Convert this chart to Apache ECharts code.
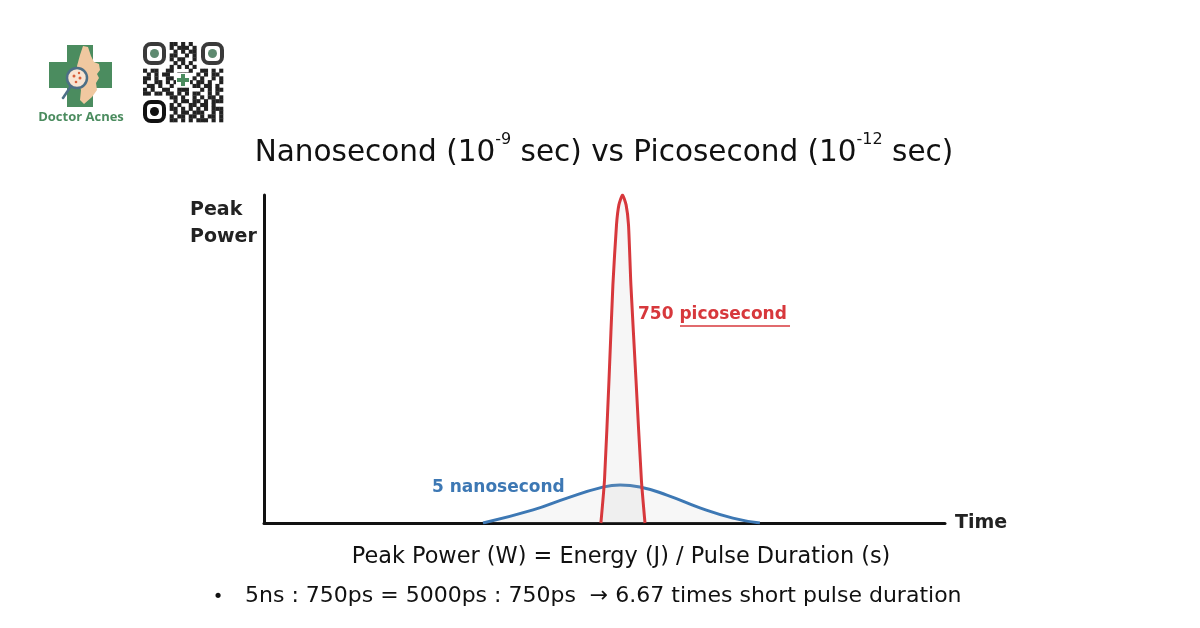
<!DOCTYPE html>
<html>
<head>
<meta charset="utf-8">
<script src="https://cdn.jsdelivr.net/npm/echarts@6/dist/echarts.min.js"></script>
<style>html,body{margin:0;padding:0;background:#fff}#c{width:1200px;height:628px}</style>
</head>
<body>
<div id="c"></div>
<script>
// Time axis in nanoseconds, power normalised to the picosecond peak
const picoTime  = [11.23, 11.35, 11.50, 11.63, 11.75, 11.83, 11.95, 12.07, 12.15, 12.23, 12.40, 12.58, 12.70];
const picoPower = [0, 0.131, 0.436, 0.726, 0.909, 0.970, 1.0, 0.970, 0.909, 0.726, 0.436, 0.131, 0];
const nanoTime  = [7.3, 8.97, 10.1, 11.2, 11.87, 12.53, 13.43, 14.53, 15.63, 16.53];
const nanoPower = [0, 0.040, 0.076, 0.107, 0.116, 0.110, 0.085, 0.046, 0.015, 0];

const titleRich = '{t|Nanosecond (10}{s|-9}{t| sec) vs Picosecond (10}{s|-12}{t| sec)}';
const yName = 'Peak\nPower';
const xName = 'Time';
const picoLabel = ['750 ', 'picosecond'];
const nanoLabel = '5 nanosecond';
const formula = 'Peak Power (W) = Energy (J) / Pulse Duration (s)';
const note = '5ns : 750ps = 5000ps : 750ps  \u2192 6.67 times short pulse duration';
const brand = 'Doctor Acnes';

const qrRows = [
".......##.#.#........",
".......#.###.#.......",
"........#.#.##.......",
".......##..#.#.......",
".......#.##..#.......",
"........#.#.#........",
".......#.#.#.#.......",
"#.##..##....#..##.#.#",
".#.#.##..###..#.#.##.",
"##.#..##.....#.#..#.#",
"#..##.#.#...#.##.#..#",
".##.#..#.....##.##.#.",
"#.#..##..###...#.#.##",
"##.##.##.#.#.##..#.#.",
".......##.#..#.#.##.#",
"........#.##.##.#.###",
".......#.#..##.##.#..",
".......##.#.#.#.#.###",
"........#.##.###..#.#",
".......#.##.##.#.##.#",
".......##.#.#.###.#.#"
];

function zip(a, b) { return a.map((v, i) => [v, b[i]]); }

const green = '#4b8c5f';
const g = [];
const C = {align:'center', verticalAlign:'middle', textAlign:'center', textVerticalAlign:'middle'};
const L = {align:'left', verticalAlign:'middle', textAlign:'left', textVerticalAlign:'middle'};
// logo: green cross
g.push({type:'rect', shape:{x:67,y:45,width:26,height:62}, style:{fill:green}});
g.push({type:'rect', shape:{x:49,y:62,width:63,height:26}, style:{fill:green}});
// face profile
g.push({type:'polygon', shape:{points:[[83,46],[88,47],[91,56],[94,62],[99,64],[100,70],[97,74],[99,78],[96,83],[97,90],[92,97],[84,104],[80,100],[81,90],[78,80],[77,66],[80,55]]}, style:{fill:'#f0c8a0'}});
// magnifier
g.push({type:'line', shape:{x1:71,y1:86,x2:63,y2:98}, style:{stroke:'#4d6f86', lineWidth:2.5, lineCap:'round'}});
g.push({type:'circle', shape:{cx:77,cy:78,r:10}, style:{fill:'#f8e4d2', stroke:'#4d6f86', lineWidth:2.5}});
g.push({type:'circle', shape:{cx:74,cy:76,r:1.5}, style:{fill:'#d9603b'}});
g.push({type:'circle', shape:{cx:80,cy:78,r:1.5}, style:{fill:'#d9603b'}});
g.push({type:'circle', shape:{cx:76,cy:82,r:1.3}, style:{fill:'#d9603b'}});
g.push({type:'circle', shape:{cx:79,cy:73,r:1.2}, style:{fill:'#d9603b'}});
g.push({type:'text', x:81, y:117, style:Object.assign({text:brand, fill:green, font:'bold 13px "Open Sans", sans-serif'}, C)});
// QR code
const qx = 143, qy = 42, m = 80 / 21;
qrRows.forEach((row, r) => {
  for (let c = 0; c < row.length; c++) {
    if (row[c] === '#') g.push({type:'rect', shape:{x:qx + c*m, y:qy + r*m, width:m+0.3, height:m+0.3}, style:{fill:'#222'}});
  }
});
function finder(x, y, outer, inner) {
  g.push({type:'rect', shape:{x:x+2, y:y+2, width:19, height:19, r:6}, style:{fill:'#fff', stroke:outer, lineWidth:4}});
  g.push({type:'rect', shape:{x:x+7, y:y+7, width:9, height:9, r:4.5}, style:{fill:inner}});
}
finder(143, 42, '#3a3a3a', '#5e8a70');
finder(201, 42, '#3a3a3a', '#5e8a70');
finder(143, 100, '#111', '#111');
g.push({type:'rect', shape:{x:176,y:73,width:14,height:14}, style:{fill:'#fff'}});
g.push({type:'rect', shape:{x:181,y:74,width:4,height:12}, style:{fill:green}});
g.push({type:'rect', shape:{x:177,y:78,width:12,height:4}, style:{fill:green}});

// title with superscripts
g.push({type:'text', x:604, y:150, style:Object.assign({text:titleRich, fill:'#111',
  rich:{
    t:{fontFamily:'"DejaVu Sans", sans-serif', fontSize:29.5, lineHeight:36, fill:'#111', verticalAlign:'bottom'},
    s:{fontFamily:'"DejaVu Sans", sans-serif', fontSize:16, lineHeight:36, fill:'#111', verticalAlign:'top', padding:[0,0,15,0]}
  }}, C)});
// y axis name
g.push({type:'text', x:190, y:224, style:Object.assign({text:yName, fill:'#222', font:'bold 19px "DejaVu Sans", sans-serif', lineHeight:27}, L)});
// series labels
g.push({type:'text', x:638, y:315, style:Object.assign({text:picoLabel.join(''), fill:'#d7383c', font:'bold 17px "DejaVu Sans", sans-serif'}, L)});
g.push({type:'line', shape:{x1:680,y1:326,x2:790,y2:326}, style:{stroke:'#d7383c', lineWidth:1.5}});
g.push({type:'text', x:432, y:488, style:Object.assign({text:nanoLabel, fill:'#3d78b4', font:'bold 17px "DejaVu Sans", sans-serif'}, L)});
// bottom texts
g.push({type:'text', x:621, y:557, style:Object.assign({text:formula, fill:'#111', font:'22.4px "DejaVu Sans", sans-serif'}, C)});
g.push({type:'text', x:218, y:597, style:Object.assign({text:'\u2022', fill:'#111', font:'18px "DejaVu Sans", sans-serif'}, C)});
g.push({type:'text', x:245, y:596, style:Object.assign({text:note, fill:'#111', font:'22px "DejaVu Sans", sans-serif'}, L)});

const chart = echarts.init(document.getElementById('c'), null, {renderer:'canvas'});
chart.setOption({
  backgroundColor: '#fff',
  animation: false,
  grid: {left: 264, top: 195, width: 681, height: 328},
  xAxis: {
    type: 'value', min: 0, max: 22.7,
    name: xName, nameLocation: 'end', nameGap: 10,
    nameTextStyle: {color: '#222', fontFamily: 'DejaVu Sans', fontWeight: 'bold', fontSize: 19, verticalAlign: 'middle'},
    axisLine: {show: true, lineStyle: {color: '#111', width: 3, cap: 'round'}},
    axisTick: {show: false}, axisLabel: {show: false}, splitLine: {show: false}
  },
  yAxis: {
    type: 'value', min: 0, max: 1,
    axisLine: {show: true, lineStyle: {color: '#111', width: 3, cap: 'round'}},
    axisTick: {show: false}, axisLabel: {show: false}, splitLine: {show: false}
  },
  series: [
    {type: 'line', data: zip(nanoTime, nanoPower), smooth: 0.5, symbol: 'none',
     lineStyle: {color: '#3d78b4', width: 3}, areaStyle: {color: 'rgba(190,190,190,0.18)'}, z: 2},
    {type: 'line', data: zip(picoTime, picoPower), smooth: 0.2, symbol: 'none',
     lineStyle: {color: '#d7383c', width: 3}, areaStyle: {color: 'rgba(190,190,190,0.2)'}, z: 3}
  ],
  graphic: g
});
</script>
</body>
</html>
